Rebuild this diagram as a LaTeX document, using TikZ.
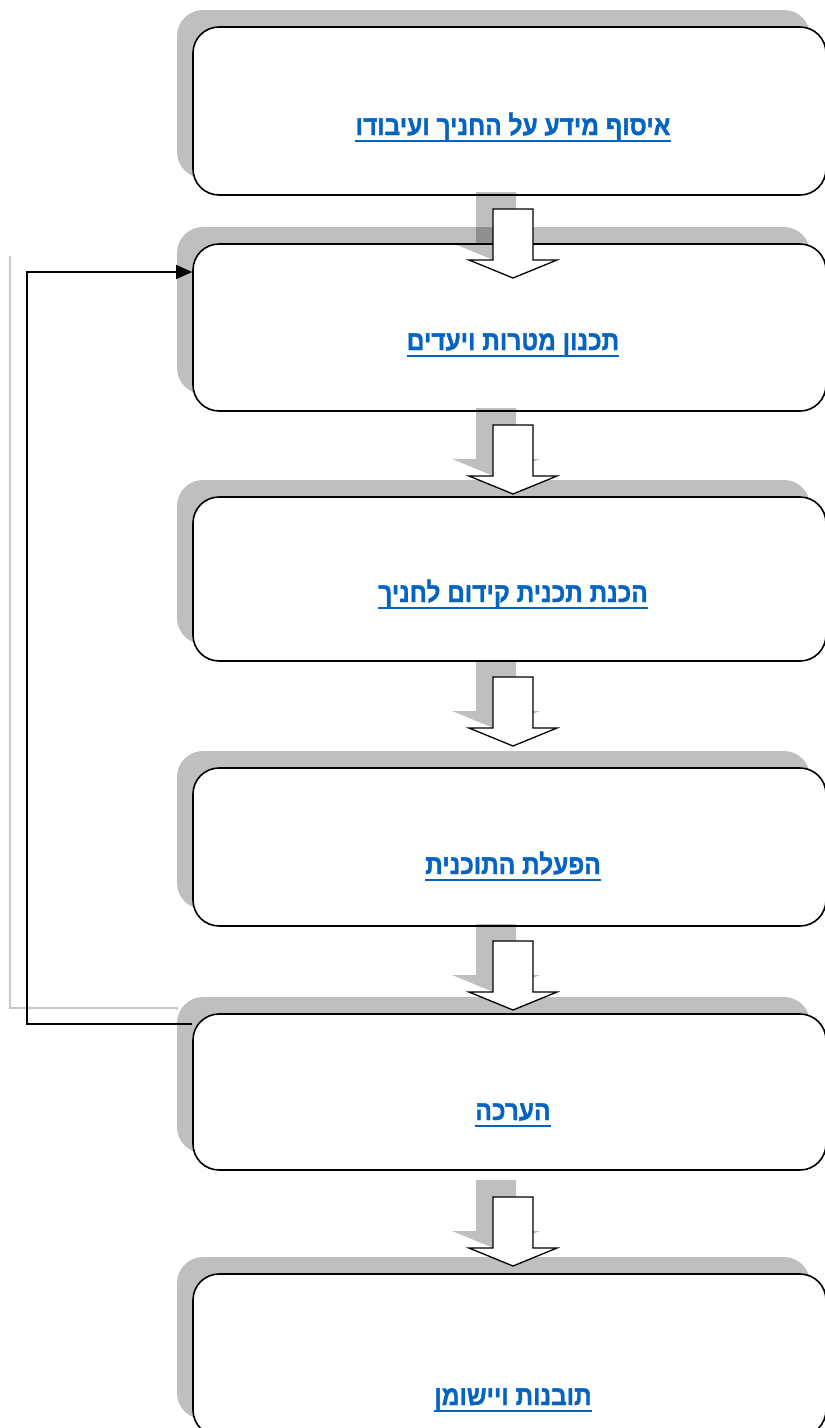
\documentclass[tikz,border=0pt]{standalone}
\usepackage{fontspec}
\newfontfamily\hebfont[Script=Hebrew, FakeStretch=0.89, FakeBold=1.2]{Liberation Sans Bold}
\TeXXeTstate=1
\usetikzlibrary{arrows.meta,shadows}
\definecolor{linkblue}{HTML}{0563C1}
\definecolor{shadowgray}{HTML}{BFBFBF}
\definecolor{lineshade}{HTML}{C8C8C8}

\tikzset{
  stagebox/.style={draw=black, line width=1.6pt, fill=white, rounded corners=26pt,
    minimum width=633pt, inner sep=0pt,
    drop shadow={shadow xshift=-16pt, shadow yshift=17pt, fill=shadowgray, opacity=1}},
  stagetext/.style={text=linkblue, inner sep=0pt, anchor=base,
    font=\hebfont\fontsize{27.5}{32}\selectfont},
  linkline/.style={draw=linkblue, line width=2.2pt},
  arrowbody/.style={draw=black, fill=white, line width=1.3pt, line join=miter},
  arrowshade/.style={fill=black, fill opacity=0.25},
  loopline/.style={draw=black, line width=1.3pt},
  loopshade/.style={draw=lineshade, line width=1.3pt},
  flowarrow/.pic={
    \fill[arrowshade] (-37,-17) -- (3,-17) -- (3,34) -- (27,34) -- (-17,52)
      -- (-61,34) -- (-37,34) -- cycle;
    \draw[arrowbody] (-20,0) -- (20,0) -- (20,51) -- (44,51) -- (0,69)
      -- (-44,51) -- (-20,51) -- cycle;
  }
}

% underline drawn under a stage label
\newcommand\linkunder[1]{%
  \draw[linkline] ([yshift=-6pt]#1.base west) -- ([yshift=-6pt]#1.base east);
}

\begin{document}
\begin{tikzpicture}[x=1pt, y=-1pt]
  \useasboundingbox (0,0) rectangle (825,1428);
  \fill[white] (0,0) rectangle (825,1428);

  % feedback loop shadow
  \draw[loopshade] (177,1010) -- (177,1008) -- (10,1008) -- (10,256);

  % the six stages
  \node[stagebox, minimum height=168pt] (b1) at (509.5,111) {};
  \node[stagebox, minimum height=167pt] (b2) at (509.5,327.5) {};
  \node[stagebox, minimum height=164pt] (b3) at (509.5,579) {};
  \node[stagebox, minimum height=158pt] (b4) at (509.5,847) {};
  \node[stagebox, minimum height=156pt] (b5) at (509.5,1092) {};
  \node[stagebox, minimum height=162pt] (b6) at (509.5,1355) {};

  \node[stagetext] (t1) at (513,135) {\beginR איסוף מידע על החניך ועיבודו\endR};
  \linkunder{t1}
  \node[stagetext] (t2) at (513,350) {\beginR תכנון מטרות ויעדים\endR};
  \linkunder{t2}
  \node[stagetext] (t3) at (513,602) {\beginR הכנת תכנית קידום לחניך\endR};
  \linkunder{t3}
  \node[stagetext] (t4) at (513,874) {\beginR הפעלת התוכנית\endR};
  \linkunder{t4}
  \node[stagetext] (t5) at (513,1120) {\beginR הערכה\endR};
  \linkunder{t5}
  \node[stagetext] (t6) at (513,1405) {\beginR תובנות ויישומן\endR};
  \linkunder{t6}

  % block arrows between stages
  \pic at (513,209) {flowarrow};
  \pic at (513,425) {flowarrow};
  \pic at (513,677) {flowarrow};
  \pic at (513,941) {flowarrow};
  \pic at (513,1197) {flowarrow};

  % feedback loop from evaluation back to planning
  \coordinate (fbA) at (27,1024);
  \coordinate (fbB) at (27,272);
  \draw[loopline, -{Triangle[length=16pt, width=14pt]}]
    (b5.west |- fbA) -- (fbA) -- (fbB) -- (b2.west |- fbB);
\end{tikzpicture}
\end{document}
